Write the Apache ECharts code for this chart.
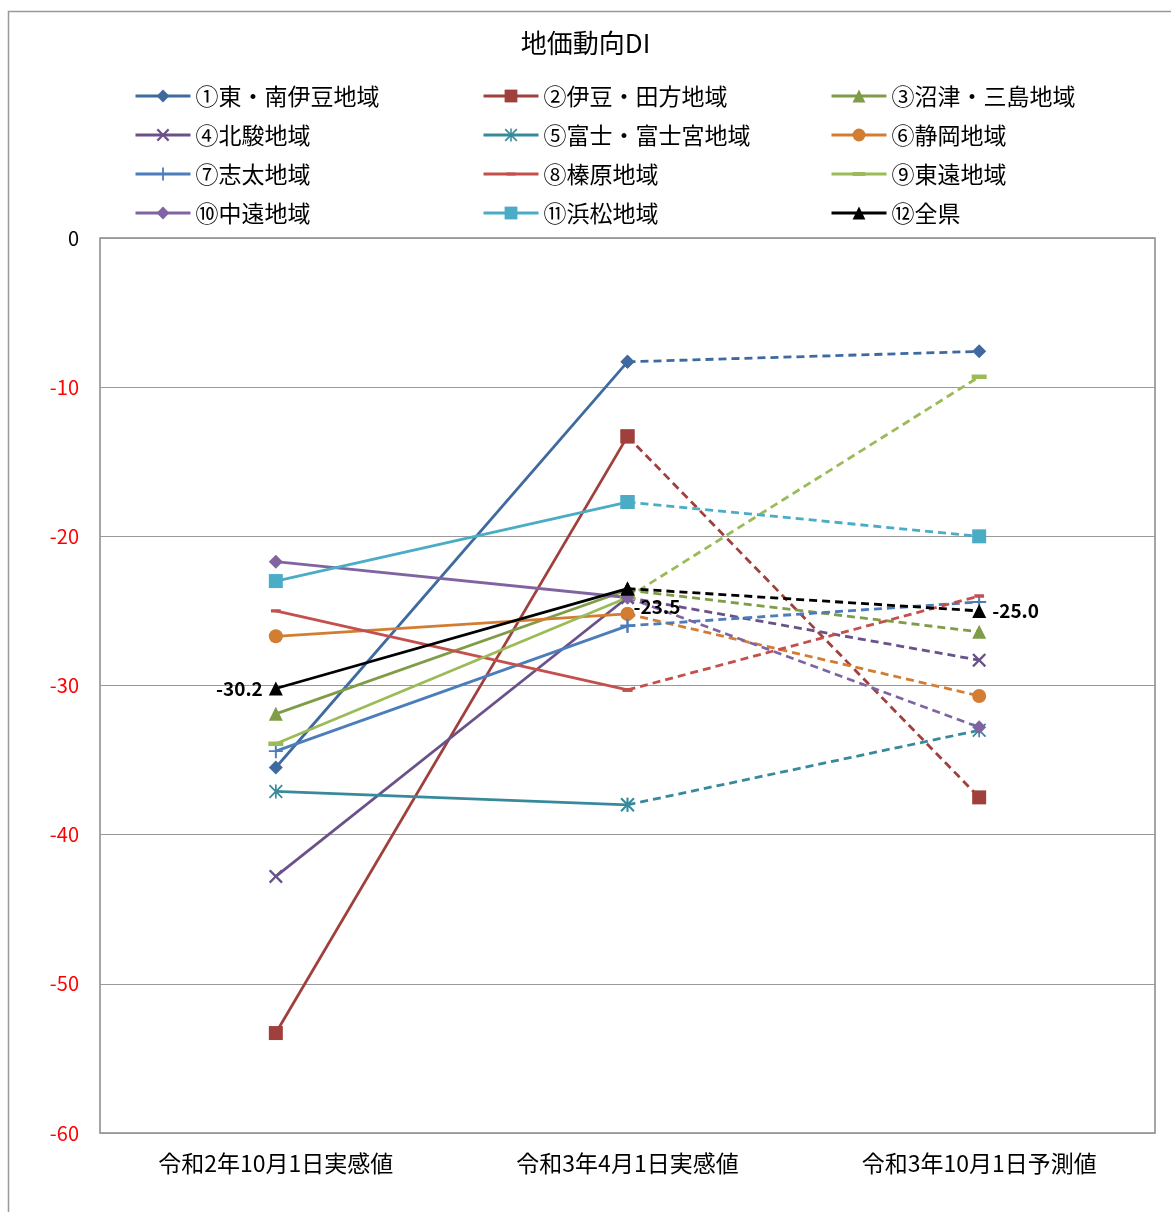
<!DOCTYPE html>
<html>
<head>
<meta charset="utf-8">
<title>地価動向DI</title>
<script src="https://cdn.jsdelivr.net/npm/echarts@6/dist/echarts.min.js"></script>
<style>
  html, body { margin: 0; padding: 0; background: #fff; }
  #main { width: 1171px; height: 1212px; }
</style>
</head>
<body>
<div id="main"></div>
<script>
// 時点
var categories = ['令和2年10月1日実感値', '令和3年4月1日実感値', '令和3年10月1日予測値'];
var yTicks = [0, -10, -20, -30, -40, -50, -60];

// 各地域のDI
var higashiMinamiIzu = [-35.5, -8.3, -7.6];
var izuTagata = [-53.3, -13.3, -37.5];
var numazuMishima = [-31.9, -23.6, -26.4];
var hokusun = [-42.8, -24.1, -28.3];
var fujiFujinomiya = [-37.1, -38.0, -33.0];
var shizuoka = [-26.7, -25.2, -30.7];
var shida = [-34.4, -26.0, -24.4];
var haibara = [-25.0, -30.3, -24.0];
var toen = [-33.9, -24.1, -9.3];
var chuen = [-21.7, -24.1, -32.8];
var hamamatsu = [-23.0, -17.7, -20.0];
var zenken = [-30.2, -23.5, -25.0];

// マーカー形状（正方形の枠に収まるように隅に極小の点を置く）
var CORNERS = ' M0,0 h0.01 v0.01 h-0.01 Z M10,10 h-0.01 v-0.01 h0.01 Z';
var X_PATH = 'path://M0,1.2 L1.2,0 L5,3.8 L8.8,0 L10,1.2 L6.2,5 L10,8.8 L8.8,10 L5,6.2 L1.2,10 L0,8.8 L3.8,5 Z';
var PLUS_PATH = 'path://M4.3,0 H5.7 V4.3 H10 V5.7 H5.7 V10 H4.3 V5.7 H0 V4.3 H4.3 Z';
var STAR_PATH = 'path://M4.4,0 H5.6 V10 H4.4 Z M0.9,0 L10,9.1 L9.1,10 L0,0.9 Z M9.1,0 L10,0.9 L0.9,10 L0,9.1 Z';
var SHORT_DASH = 'path://M1.5,3.8 H8.5 V6.2 H1.5 Z' + CORNERS;
var LONG_DASH = 'path://M0,3.5 H10 V6.5 H0 Z' + CORNERS;

var areas = [
  { name: '①東・南伊豆地域', data: higashiMinamiIzu, color: '#3F6AA0', symbol: 'diamond', size: 14 },
  { name: '②伊豆・田方地域', data: izuTagata, color: '#A0403D', symbol: 'rect', size: 14 },
  { name: '③沼津・三島地域', data: numazuMishima, color: '#7F9C46', symbol: 'triangle', size: 14 },
  { name: '④北駿地域', data: hokusun, color: '#6A5189', symbol: X_PATH, size: 14 },
  { name: '⑤富士・富士宮地域', data: fujiFujinomiya, color: '#378A9C', symbol: STAR_PATH, size: 14 },
  { name: '⑥静岡地域', data: shizuoka, color: '#D27D32', symbol: 'circle', size: 14 },
  { name: '⑦志太地域', data: shida, color: '#4A7DBA', symbol: PLUS_PATH, size: 14 },
  { name: '⑧榛原地域', data: haibara, color: '#C4504D', symbol: SHORT_DASH, size: 14 },
  { name: '⑨東遠地域', data: toen, color: '#9BBB59', symbol: LONG_DASH, size: 15 },
  { name: '⑩中遠地域', data: chuen, color: '#8064A2', symbol: 'diamond', size: 14 },
  { name: '⑪浜松地域', data: hamamatsu, color: '#4BACC6', symbol: 'rect', size: 14 },
  { name: '⑫全県', data: zenken, color: '#000000', symbol: 'triangle', size: 14 }
];

var FONT = 'Noto Sans CJK JP';
var LINE_W = 2.8;

var solidSeries = [];
var dashedSeries = [];
areas.forEach(function (a, i) {
  var isAll = i === areas.length - 1;
  var solidData = [a.data[0], a.data[1], '-'];
  var dashData = ['-', a.data[1], a.data[2]];
  if (isAll) {
    var lbl = { show: true, fontFamily: FONT, fontWeight: 'bold', fontSize: 19, color: '#000',
      formatter: function (p) { return p.value.toFixed(1); } };
    solidData = [
      { value: a.data[0], label: Object.assign({}, lbl, { position: 'left', distance: 6 }) },
      { value: a.data[1], label: Object.assign({}, lbl, { position: 'right', offset: [-6, 18] }) },
      '-'
    ];
    dashData = ['-', a.data[1],
      { value: a.data[2], label: Object.assign({}, lbl, { position: 'right', distance: 6 }) }
    ];
  }
  var base = {
    name: a.name,
    type: 'line',
    symbol: a.symbol,
    symbolSize: a.size,
    showAllSymbol: true,
    connectNulls: false,
    z: isAll ? 5 : 2,
    itemStyle: { color: a.color, borderWidth: 0 },
    emphasis: { disabled: true },
    animation: false
  };
  solidSeries.push(Object.assign({}, base, {
    data: solidData,
    lineStyle: { color: a.color, width: LINE_W, type: 'solid' }
  }));
  dashedSeries.push(Object.assign({}, base, {
    data: dashData,
    lineStyle: { color: a.color, width: LINE_W, type: [8, 5] }
  }));
});

var legendCommon = {
  orient: 'vertical',
  top: 84,
  padding: 0,
  itemWidth: 55,
  itemHeight: 16,
  itemGap: 15,
  lineStyle: { width: 3 },
  textStyle: { fontFamily: FONT, fontSize: 23, color: '#000', lineHeight: 24 },
  selectedMode: false
};
var legendNames = areas.map(function (a) { return a.name; });

var chart = echarts.init(document.getElementById('main'), null, { renderer: 'canvas' });
var option = {
  backgroundColor: '#fff',
  title: {
    text: '地価動向DI',
    left: 'center',
    top: 25,
    textStyle: { fontFamily: FONT, fontSize: 26, fontWeight: 'normal', color: '#000' }
  },
  graphic: [{
    type: 'rect',
    shape: { x: 8.5, y: 11.5, width: 1200, height: 1260 },
    style: { fill: 'none', stroke: '#999', lineWidth: 1.5 },
    silent: true
  }],
  legend: [
    Object.assign({}, legendCommon, { left: 134, data: [legendNames[0], legendNames[3], legendNames[6], legendNames[9]] }),
    Object.assign({}, legendCommon, { left: 482, data: [legendNames[1], legendNames[4], legendNames[7], legendNames[10]] }),
    Object.assign({}, legendCommon, { left: 830, data: [legendNames[2], legendNames[5], legendNames[8], legendNames[11]] })
  ],
  grid: {
    left: 100, top: 238, right: 16, bottom: 79,
    show: true, borderColor: '#888', borderWidth: 1.5
  },
  xAxis: {
    type: 'category',
    data: categories,
    boundaryGap: true,
    axisLine: { show: false },
    axisTick: { show: false },
    axisLabel: { fontFamily: FONT, fontSize: 23, color: '#000', margin: 19 }
  },
  yAxis: {
    type: 'value',
    min: yTicks[yTicks.length - 1],
    max: yTicks[0],
    interval: 10,
    axisLine: { show: false },
    axisTick: { show: false },
    splitLine: { lineStyle: { color: '#999', width: 1.2 } },
    axisLabel: {
      fontFamily: FONT, fontSize: 20, margin: 21,
      color: function (v) { return v < 0 ? '#FF0000' : '#000'; }
    }
  },
  series: solidSeries.concat(dashedSeries)
};
chart.setOption(option);
</script>
</body>
</html>
